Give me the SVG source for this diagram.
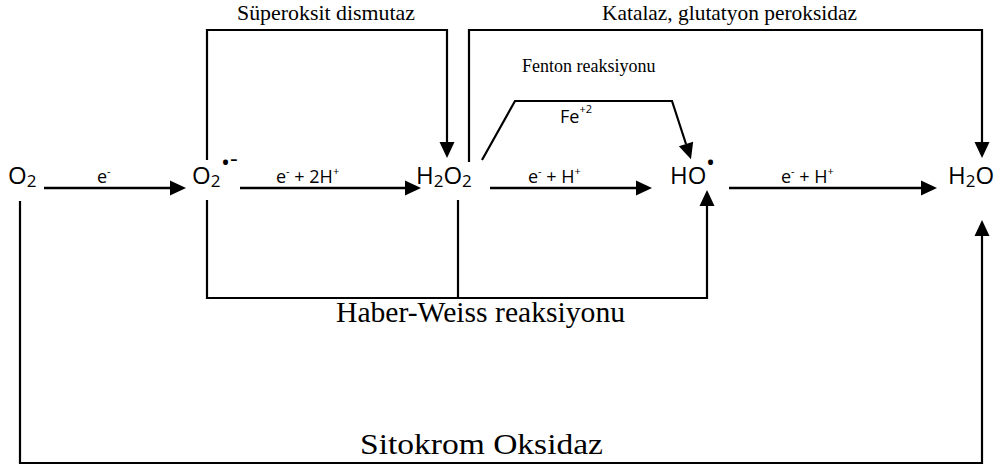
<svg xmlns="http://www.w3.org/2000/svg" width="997" height="468" viewBox="0 0 997 468">
<style>
.sp{font-family:"Open Sans","Liberation Sans",sans-serif;font-size:24px;fill:#000}
.lb{font-family:"Open Sans","Liberation Sans",sans-serif;font-size:18px;fill:#000}
.sr{font-family:"Liberation Serif","Times New Roman",serif;fill:#000}
.main{fill:none;stroke:#000;stroke-width:2.6}
.br{fill:none;stroke:#000;stroke-width:2.2}
</style>
<defs>
<marker id="ah" markerUnits="userSpaceOnUse" markerWidth="18" markerHeight="18" refX="0" refY="8" orient="auto" overflow="visible">
<path d="M0,0.5 L16,8 L0,15.5 z" fill="#000"/>
</marker>
</defs>
<rect width="997" height="468" fill="#fff"/>
<g id="connectors">
<path class="main" d="M44,188 H170" marker-end="url(#ah)"/>
<path class="main" d="M240,188 H405" marker-end="url(#ah)"/>
<path class="main" d="M490,188 H636" marker-end="url(#ah)"/>
<path class="main" d="M729,188 H921" marker-end="url(#ah)"/>
<path class="br" d="M207,160 V30 H447 V142" marker-end="url(#ah)"/>
<path class="br" d="M469,162 V30 H982 V142" marker-end="url(#ah)"/>
<path class="br" d="M482,160 L515,101 H672 L686,144" marker-end="url(#ah)"/>
<path class="br" d="M207,200 V298 H707 V206" marker-end="url(#ah)"/>
<path class="br" d="M458,200 V298"/>
<path class="br" d="M20,201 V463 H982 V236" marker-end="url(#ah)"/>
</g>
<g id="node-o2"><text class="sp" x="8" y="184">O<tspan font-size="17" dy="3">2</tspan></text></g>
<g id="node-superoxide"><text class="sp" x="192" y="184">O<tspan font-size="17" dy="3">2</tspan></text><text class="sp" x="221" y="171" font-size="16">•</text><text class="sp" x="230" y="167" font-size="11">-</text></g>
<g id="node-h2o2"><text class="sp" x="416" y="184">H<tspan font-size="17" dy="3">2</tspan><tspan dy="-3">O</tspan><tspan font-size="17" dy="3">2</tspan></text></g>
<g id="node-ho"><text class="sp" x="670" y="184">HO</text><text class="sp" x="706" y="171" font-size="16">•</text></g>
<g id="node-h2o"><text class="sp" x="948" y="184">H<tspan font-size="17" dy="3">2</tspan><tspan dy="-3">O</tspan></text></g>
<g id="labels">
<text class="lb" x="97" y="183">e<tspan font-size="11" dy="-8">-</tspan></text>
<text class="lb" x="276" y="183">e<tspan font-size="11" dy="-8">-</tspan><tspan dy="8"> + 2H</tspan><tspan font-size="11" dy="-8">+</tspan></text>
<text class="lb" x="528" y="183">e<tspan font-size="11" dy="-8">-</tspan><tspan dy="8"> + H</tspan><tspan font-size="11" dy="-8">+</tspan></text>
<text class="lb" x="781" y="183">e<tspan font-size="11" dy="-8">-</tspan><tspan dy="8"> + H</tspan><tspan font-size="11" dy="-8">+</tspan></text>
<text class="lb" x="560" y="123">Fe<tspan font-size="11" dy="-10">+2</tspan></text>
<text class="sr" x="237" y="20" font-size="21" textLength="178" lengthAdjust="spacingAndGlyphs">Süperoksit dismutaz</text>
<text class="sr" x="602" y="20" font-size="21" textLength="255" lengthAdjust="spacingAndGlyphs">Katalaz, glutatyon peroksidaz</text>
<text class="sr" x="522" y="72" font-size="18">Fenton reaksiyonu</text>
<text class="sr" x="336" y="322" font-size="29" textLength="289" lengthAdjust="spacingAndGlyphs">Haber-Weiss reaksiyonu</text>
<text class="sr" x="360" y="454" font-size="30" textLength="243" lengthAdjust="spacingAndGlyphs">Sitokrom Oksidaz</text>
</g>
</svg>
